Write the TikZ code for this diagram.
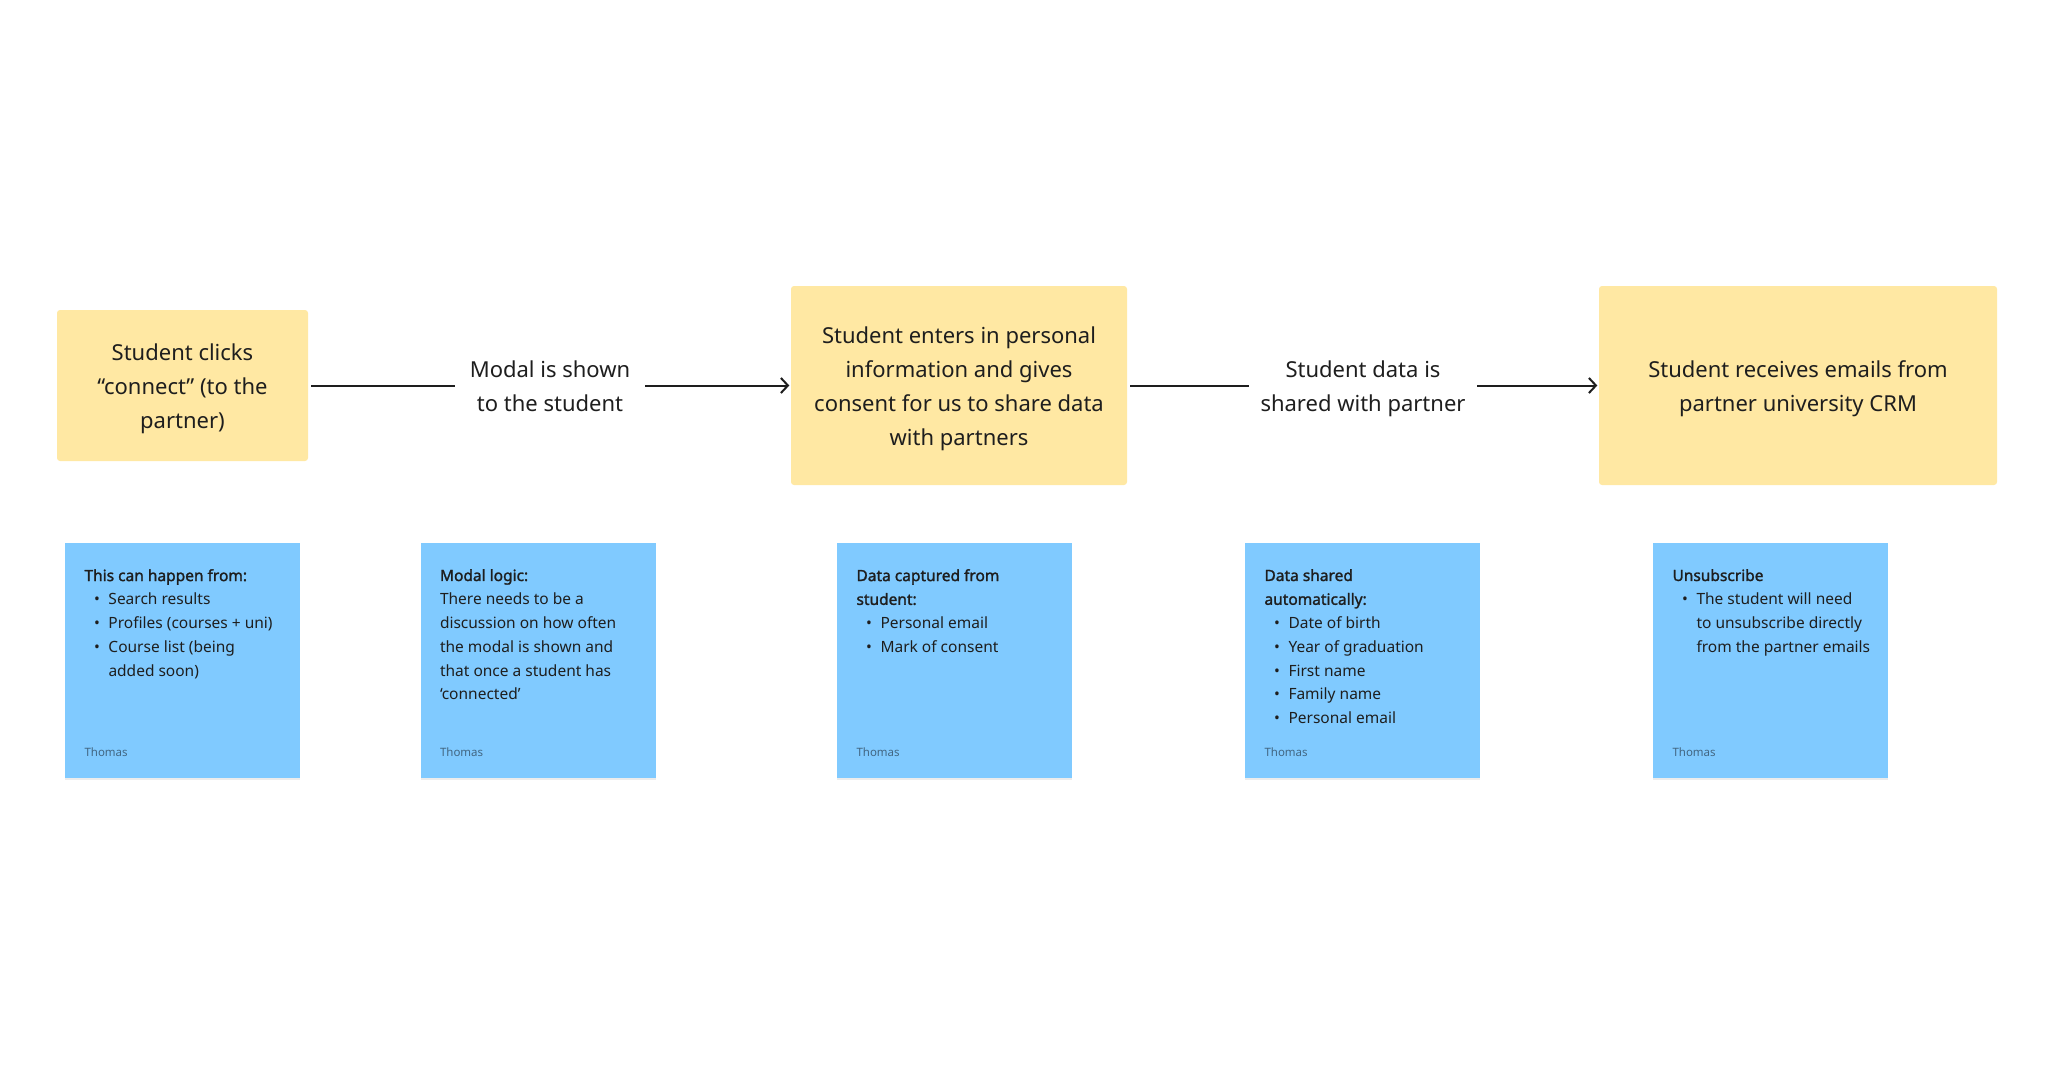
\documentclass[tikz,border=0pt]{standalone}
\usepackage{fontspec}
\setmainfont{Noto Sans}[AutoFakeBold=1.6]
\usetikzlibrary{arrows.meta,shadows}
\definecolor{stickyyellow}{HTML}{FFE8A3}
\definecolor{stickyblue}{HTML}{80CAFF}
\definecolor{ink}{HTML}{1E1E1E}
\definecolor{authorgrey}{HTML}{426682}
\newcommand{\itm}[1]{\makebox[24pt][l]{\hspace{9.5pt}\textbullet}#1}
\newcommand{\cnt}[1]{\hspace{24pt}#1}
\newcommand{\flowlines}[1]{\raisebox{-2.6pt}[\height][\depth]{\begin{tabular}{@{}c@{}}#1\end{tabular}}}
\begin{document}
\begin{tikzpicture}[x=1pt,y=-1pt,
  stepbox/.style={fill=stickyyellow, rounded corners=3pt, text=ink,
    font=\fontsize{22}{34}\selectfont, inner sep=0pt},
  flowlabel/.style={inner sep=0pt, text=ink, font=\fontsize{22}{34}\selectfont},
  notebox/.style={fill=stickyblue, minimum width=235pt, minimum height=235pt, inner sep=0pt,
    drop shadow={shadow xshift=0pt, shadow yshift=-2pt, opacity=0.15}},
  notetext/.style={anchor=north west, inner sep=0pt, align=left, text=ink,
    font=\fontsize{15.5}{23.8}\selectfont},
  authortext/.style={anchor=west, inner sep=0pt, text=authorgrey, font=\fontsize{11.5}{13}\selectfont},
  flow/.style={line width=2pt, draw=ink},
  arrowflow/.style={flow, -{Straight Barb[length=7pt,width=15pt]}, shorten >=1.5pt}
]
\useasboundingbox[fill=white] (0,0) rectangle (2048,1078);

% step boxes
\node[stepbox, minimum width=251pt, minimum height=151pt] (b1) at (182.5,385.5)
  {\flowlines{Student clicks\\“connect” (to the\\partner)}};
\node[stepbox, minimum width=336pt, minimum height=199pt] (b2) at (959,385.5)
  {\flowlines{Student enters in personal\\information and gives\\consent for us to share data\\with partners}};
\node[stepbox, minimum width=398pt, minimum height=199pt] (b3) at (1798,385.5)
  {\flowlines{Student receives emails from\\partner university CRM}};

% connector labels
\node[flowlabel, minimum width=190pt] (l1) at (550,385.5) {\flowlines{Modal is shown\\to the student}};
\node[flowlabel, minimum width=228pt] (l2) at (1363,385.5) {\flowlines{Student data is\\shared with partner}};

% connectors
\draw[flow, shorten <=3pt] (b1) -- (l1);
\draw[arrowflow] (l1) -- (b2);
\draw[flow, shorten <=3pt] (b2) -- (l2);
\draw[arrowflow] (l2) -- (b3);

% sticky notes
\node[notebox] (n1) at (182.5,660.5) {};
\node[notebox] (n2) at (538,660.5) {};
\node[notebox] (n3) at (954.5,660.5) {};
\node[notebox] (n4) at (1362.5,660.5) {};
\node[notebox] (n5) at (1770.5,660.5) {};

\node[notetext] (t1) at ([shift={(19.5,26.2)}]n1.north west)
  {\textbf{This can happen from:}\\\itm{Search results}\\\itm{Profiles (courses + uni)}\\\itm{Course list (being}\\\cnt{added soon)}};
\node[notetext] (t2) at ([shift={(19.5,26.2)}]n2.north west)
  {\textbf{Modal logic:}\\There needs to be a\\discussion on how often\\the modal is shown and\\that once a student has\\‘connected’};
\node[notetext] (t3) at ([shift={(19.5,26.2)}]n3.north west)
  {\textbf{Data captured from}\\\textbf{student:}\\\itm{Personal email}\\\itm{Mark of consent}};
\node[notetext] (t4) at ([shift={(19.5,26.2)}]n4.north west)
  {\textbf{Data shared}\\\textbf{automatically:}\\\itm{Date of birth}\\\itm{Year of graduation}\\\itm{First name}\\\itm{Family name}\\\itm{Personal email}};
\node[notetext] (t5) at ([shift={(19.5,26.2)}]n5.north west)
  {\textbf{Unsubscribe}\\\itm{The student will need}\\\cnt{to unsubscribe directly}\\\cnt{from the partner emails}};

\node[authortext] (a1) at ([shift={(19.5,-26.5)}]n1.south west) {Thomas};
\node[authortext] (a2) at ([shift={(19.5,-26.5)}]n2.south west) {Thomas};
\node[authortext] (a3) at ([shift={(19.5,-26.5)}]n3.south west) {Thomas};
\node[authortext] (a4) at ([shift={(19.5,-26.5)}]n4.south west) {Thomas};
\node[authortext] (a5) at ([shift={(19.5,-26.5)}]n5.south west) {Thomas};
\end{tikzpicture}
\end{document}
